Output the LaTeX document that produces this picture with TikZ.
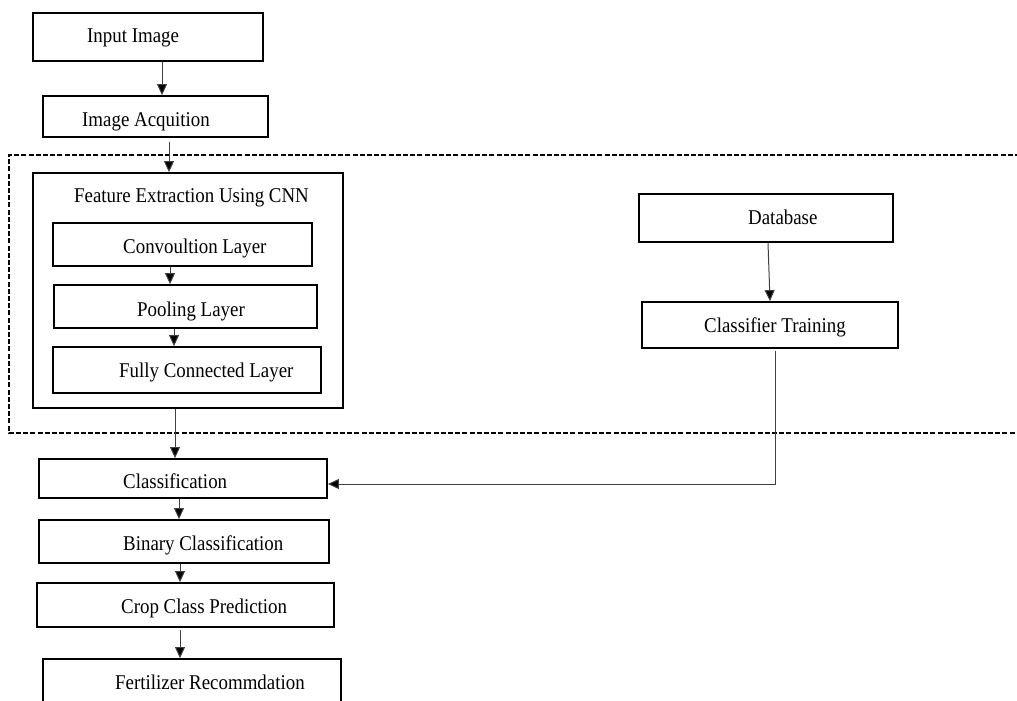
\documentclass[tikz,border=0pt]{standalone}
\usepackage{fontspec}
\usepackage{graphicx}
\setmainfont{Liberation Serif}
\usetikzlibrary{arrows.meta}
\newcommand\sqz[1]{\scalebox{0.9}[1]{#1}}
\tikzset{
  box/.style={draw=black, line width=1.8pt, rectangle, inner sep=0pt},
  lbl/.style={anchor=base west, inner sep=0pt, font=\fontsize{21}{24}\selectfont},
  arr/.style={draw=black!75, line width=1pt, -{Triangle[length=11pt,width=10pt,fill=black]}},
  dashbox/.style={draw=black, line width=1.8pt, dash pattern=on 5pt off 2.2pt}
}
\begin{document}
\begin{tikzpicture}[x=1pt,y=-1pt]
\useasboundingbox (0,0) rectangle (1017,701);
\clip (0,0) rectangle (1017,701);
% dashed region
\coordinate (dtr) at (1020,155);
\coordinate (dtl) at (9,155);
\coordinate (dbl) at (9,433);
\coordinate (dbr) at (1020,433);
\draw[dashbox] (dtr) -- (dtl) -- (dbl) -- (dbr);
% boxes
\node[box, minimum width=230pt, minimum height=48pt] (inp) at (148,37) {};
\node[box, minimum width=225pt, minimum height=41pt] (acq) at (155.5,116.5) {};
\node[box, minimum width=310pt, minimum height=235pt] (feat) at (188,290.5) {};
\node[box, minimum width=259pt, minimum height=43pt] (conv) at (182.5,244.5) {};
\node[box, minimum width=263pt, minimum height=43pt] (pool) at (185.5,306.5) {};
\node[box, minimum width=268pt, minimum height=46pt] (fc) at (187,370) {};
\node[box, minimum width=254pt, minimum height=48pt] (db) at (766,218) {};
\node[box, minimum width=256pt, minimum height=46pt] (ct) at (770,325) {};
\node[box, minimum width=288pt, minimum height=39pt] (cls) at (183,478.5) {};
\node[box, minimum width=290pt, minimum height=43pt] (bin) at (184,541.5) {};
\node[box, minimum width=297pt, minimum height=44pt] (crop) at (185.5,605) {};
\node[box, minimum width=298pt, minimum height=52pt] (fert) at (192,685) {};
% labels
\node[lbl] (tinp) at (87,43) {\sqz{Input Image}};
\node[lbl] (tacq) at (82,126) {\sqz{Image Acquition}};
\node[lbl] (tfeat) at (74,202) {\sqz{Feature Extraction Using CNN}};
\node[lbl] (tconv) at (123,253) {\sqz{Convoultion Layer}};
\node[lbl] (tpool) at (137,316) {\sqz{Pooling Layer}};
\node[lbl] (tfc) at (119,377) {\sqz{Fully Connected Layer}};
\node[lbl] (tdb) at (748,224) {\sqz{Database}};
\node[lbl] (tct) at (704,332) {\sqz{Classifier Training}};
\node[lbl] (tcls) at (123,488) {\sqz{Classification}};
\node[lbl] (tbin) at (123,550) {\sqz{Binary Classification}};
\node[lbl] (tcrop) at (121,613) {\sqz{Crop Class Prediction}};
\node[lbl] (tfert) at (115,689) {\sqz{Fertilizer Recommdation}};
% connectors
\draw[arr] ([xshift=14pt]inp.south) -- ([xshift=6.5pt]acq.north);
\draw[arr] ([xshift=13.5pt,yshift=-4pt]acq.south) -- ([xshift=-19pt]feat.north);
\draw[arr] ([xshift=-12.5pt]conv.south) -- ([xshift=-15.5pt]pool.north);
\draw[arr] ([xshift=-11.5pt]pool.south) -- ([xshift=-13pt]fc.north);
\draw[arr] ([xshift=-13pt]feat.south) -- ([xshift=-8pt]cls.north);
\draw[arr] ([xshift=-4pt]cls.south) -- ([xshift=-5pt]bin.north);
\draw[arr] ([xshift=-4pt]bin.south) -- ([xshift=-5.5pt]crop.north);
\draw[arr] ([xshift=-5.5pt,yshift=-2pt]crop.south) -- ([xshift=-12pt]fert.north);
\draw[arr] ([xshift=2pt]db.south) -- ([xshift=0pt]ct.north);
\draw[arr] ([xshift=5pt,yshift=-2pt]ct.south) |- ([yshift=-5.5pt]cls.east);
\end{tikzpicture}
\end{document}
